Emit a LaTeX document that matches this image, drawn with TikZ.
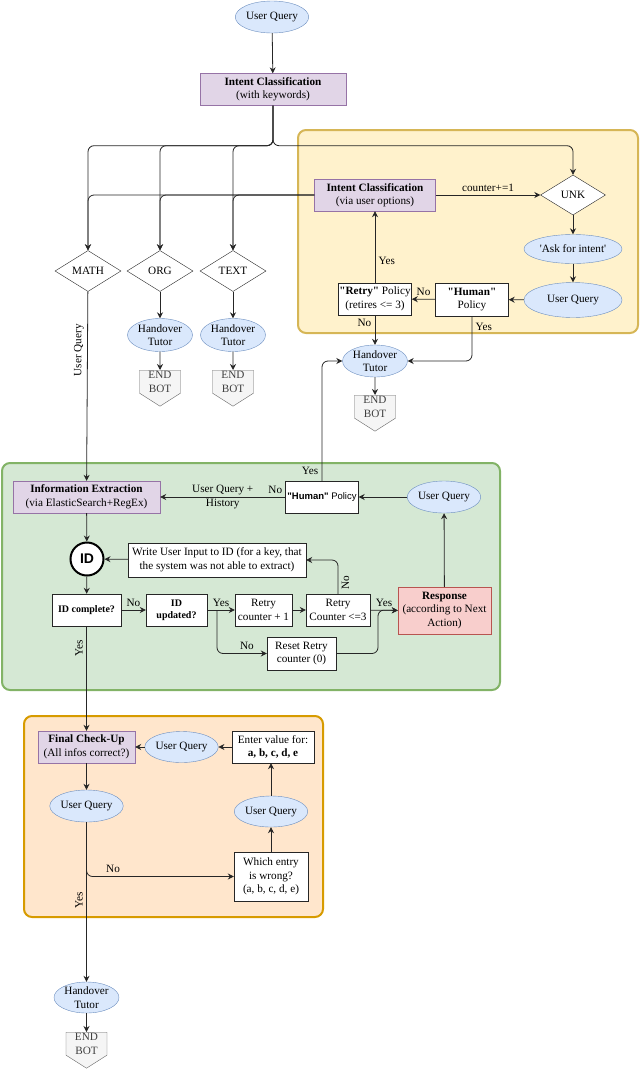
\documentclass[tikz,border=0pt]{standalone}
\usepackage{fontspec}
\setmainfont{Liberation Serif}
\setsansfont{Liberation Sans}
\usetikzlibrary{shapes.geometric,shapes.symbols,arrows.meta,positioning}

\definecolor{qfill}{HTML}{DAE8FC}
\definecolor{qline}{HTML}{6C8EBF}
\definecolor{pfill}{HTML}{E1D5E7}
\definecolor{pline}{HTML}{9673A6}
\definecolor{yfill}{HTML}{FFF2CC}
\definecolor{yline}{HTML}{D6B656}
\definecolor{gfill}{HTML}{D5E8D4}
\definecolor{gline}{HTML}{82B366}
\definecolor{ofill}{HTML}{FFE6CC}
\definecolor{oline}{HTML}{D79B00}
\definecolor{rfill}{HTML}{F8CECC}
\definecolor{rline}{HTML}{B85450}
\definecolor{efill}{HTML}{F5F5F5}
\definecolor{eline}{HTML}{666666}

\tikzset{
	flow/.style={draw=black!85, line width=0.8pt, -{Stealth[length=6pt,width=6pt,inset=2pt]}},
	query/.style={ellipse, draw=qline, fill=qfill, minimum width=65pt, minimum height=32pt, inner sep=0pt, align=center},
	stepbox/.style={rectangle, draw=black!85, fill=white, minimum height=32pt, inner sep=1pt, align=center},
	intentbox/.style={stepbox, draw=pline, fill=pfill},
	choice/.style={diamond, draw=black!85, fill=white, minimum width=66pt, minimum height=41pt, inner sep=0pt},
	endbot/.style={signal, signal to=south, signal pointer angle=115, draw=eline, fill=efill, text=black!75, minimum width=41pt, inner sep=1pt, align=center, anchor=north},
	container/.style={rounded corners=8pt, line width=2pt}
}
\newcommand{\dq}{\textquotedbl}

\begin{document}
\begin{tikzpicture}[x=1pt, y=-1pt, font=\fontsize{11.2}{13.5}\selectfont]
\useasboundingbox (0,0) rectangle (640,1074);

% containers
\draw[container, draw=yline, fill=yfill] (298,130) rectangle (638,333);
\draw[container, draw=gline, fill=gfill] (2,463) rectangle (500,690);
\draw[container, draw=oline, fill=ofill] (24,716) rectangle (323,917);

% keyword classification
\node[query] (uqtop) at (272,17) {User Query};
\node[intentbox, minimum width=146pt] (ickey) at (273,89.5) {\textbf{Intent Classification}\\(with keywords)};
\node[choice] (math) at (88,271) {MATH};
\node[choice] (org) at (160,271) {ORG};
\node[choice] (text) at (233,271) {TEXT};
\node[choice, minimum width=65pt, minimum height=40pt] (unk) at (573,195) {UNK};

% unknown intent
\node[intentbox, minimum width=121pt] (icopt) at (375,195) {\textbf{Intent Classification}\\(via user options)};
\node[query, minimum width=98pt, minimum height=29pt] (ask) at (573,249) {\textquotesingle Ask for intent\textquotesingle};
\node[query, minimum width=98pt, minimum height=35pt] (uqunk) at (573,300) {User Query};
\node[stepbox, minimum width=73pt, minimum height=33pt] (humtop) at (472,299.5) {\textbf{\dq Human\dq}\\Policy};
\node[stepbox, minimum width=73pt] (retrytop) at (375,299) {\textbf{\dq Retry\dq} Policy\\(retires <= 3)};
\node[query] (hotop) at (375,361) {Handover\\Tutor};
\node[endbot] (ebtop) at (375,395) {END\\BOT};

% handovers
\node[query, minimum height=33pt] (hoorg) at (160,335) {Handover\\Tutor};
\node[query, minimum height=33pt] (hotext) at (233,335) {Handover\\Tutor};
\node[endbot] (eborg) at (160,370) {END\\BOT};
\node[endbot] (ebtext) at (233,370) {END\\BOT};

% information extraction
\node[intentbox, minimum width=147pt] (ie) at (86.5,497) {\textbf{Information Extraction}\\(via ElasticSearch+RegEx)};
\node[stepbox, minimum width=73pt, font=\sffamily\fontsize{9.5}{11}\selectfont] (humg) at (322,497) {\textbf{\dq Human\dq} Policy};
\node[query, minimum width=66pt] (uqgreen) at (444,497) {User Query};
\node[circle, draw=black, fill=white, line width=2pt, minimum size=33pt, inner sep=0pt, font=\sffamily\bfseries\fontsize{14}{14}\selectfont] (id) at (87,559) {ID};
\node[stepbox, minimum width=178pt, minimum height=34pt] (write) at (217,560) {Write User Input to ID (for a key, that\\the system was not able to extract)};
\node[stepbox, minimum width=69pt, font=\bfseries] (idc) at (86.5,610) {ID complete?};
\node[stepbox, minimum width=61pt, font=\bfseries] (idu) at (176.5,610) {ID\\updated?};
\node[stepbox, minimum width=57pt] (rc1) at (263.5,610) {Retry\\counter + 1};
\node[stepbox, minimum width=64pt] (rc3) at (338,610) {Retry\\Counter <=3};
\node[stepbox, minimum width=93pt, minimum height=47pt, draw=rline, fill=rfill] (resp) at (444.5,610.5) {\textbf{Response}\\(according to Next\\Action)};
\node[stepbox, minimum width=69pt, minimum height=33pt] (reset) at (301.5,653.5) {Reset Retry\\counter (0)};
\coordinate (split) at (217,610);
\coordinate (join) at (378,610);

% final check
\node[intentbox, minimum width=97pt] (final) at (86.5,747) {\textbf{Final Check-Up}\\(All infos correct?)};
\node[query, minimum height=31pt] (uqmid) at (181.5,747) {User Query};
\node[stepbox, minimum width=82pt] (enter) at (273,747) {Enter value for:\\\textbf{a, b, c, d, e}};
\node[query] (uqlow) at (86.5,806) {User Query};
\node[query, minimum height=31pt] (uqright) at (271,811.5) {User Query};
\node[stepbox, minimum width=74pt, minimum height=49pt] (which) at (271,876.5) {Which entry\\is wrong?\\(a, b, c, d, e)};
\node[query, minimum height=31pt] (hofinal) at (86.5,997.5) {Handover\\Tutor};
\node[endbot] (ebfinal) at (86.5,1032) {END\\BOT};

% top connectors
\draw[flow] (uqtop) -- (ickey);
\foreach \t in {math,org,text,unk}
	\draw[flow, rounded corners=6pt] (ickey.south) -- ++(0,40) -| (\t.north);
\foreach \t in {math,org,text}
	\draw[flow, rounded corners=6pt] (icopt.west) -| (\t.north);
\draw[flow] (icopt) -- node[above]{counter+=1} (unk);
\draw[flow] (unk) -- (ask);
\draw[flow] (ask) -- (uqunk);
\draw[flow] (uqunk) -- (humtop);
\draw[flow] (humtop) -- node[above]{No} (retrytop);
\draw[flow] (retrytop) -- node[right, pos=0.3]{Yes} (icopt);
\draw[flow] (retrytop) -- node[left, pos=0.25]{No} (hotop);
\draw[flow, rounded corners=6pt] (humtop.south) |- node[right, pos=0.12]{Yes} (hotop.east);
\draw[flow] (hotop) -- (ebtop);
\draw[flow] (org) -- (hoorg);
\draw[flow] (text) -- (hotext);
\draw[flow] (hoorg) -- (eborg);
\draw[flow] (hotext) -- (ebtext);
\draw[flow] (math) -- node[above, rotate=90, pos=0.31]{User Query} (ie);

% extraction connectors
\draw[flow] (uqgreen) -- (humg);
\draw[flow] (humg) -- node[align=center]{User Query +\\History} node[above, pos=0.08]{No} (ie);
\draw[flow, rounded corners=6pt] (humg.north) |- node[left, pos=0.04]{Yes} (hotop.west);
\draw[flow] (ie) -- (id);
\draw[flow] (write) -- (id);
\draw[flow] (id) -- (idc);
\draw[flow] (idc) -- node[above]{No} (idu);
\draw[flow] (idu) -- node[above]{Yes} (rc1);
\draw[flow] (rc1) -- (rc3);
\draw[flow] (rc3) -- node[above]{Yes} (resp);
\draw[flow, rounded corners=6pt] (rc3.north) |- node[below, rotate=90, pos=0.17]{No} (write.east);
\draw[flow, rounded corners=6pt] (split) |- node[above, pos=0.8]{No} (reset.west);
\draw[flow, rounded corners=6pt] (reset.east) -| (join) -- (resp.west);
\draw[flow] (resp) -- (uqgreen);

% final check connectors
\draw[flow] (idc) -- node[above, rotate=90, pos=0.21]{Yes} (final);
\draw[flow] (enter) -- (uqmid);
\draw[flow] (uqmid) -- (final);
\draw[flow] (final) -- (uqlow);
\draw[flow, rounded corners=6pt] (uqlow.south) |- node[above, pos=0.59]{No} (which.west);
\draw[flow] (which) -- (uqright);
\draw[flow] (uqright.north) -- (uqright.north |- enter.south);
\draw[flow] (uqlow) -- node[above, rotate=90, pos=0.49]{Yes} (hofinal);
\draw[flow] (hofinal) -- (ebfinal);
\end{tikzpicture}
\end{document}
